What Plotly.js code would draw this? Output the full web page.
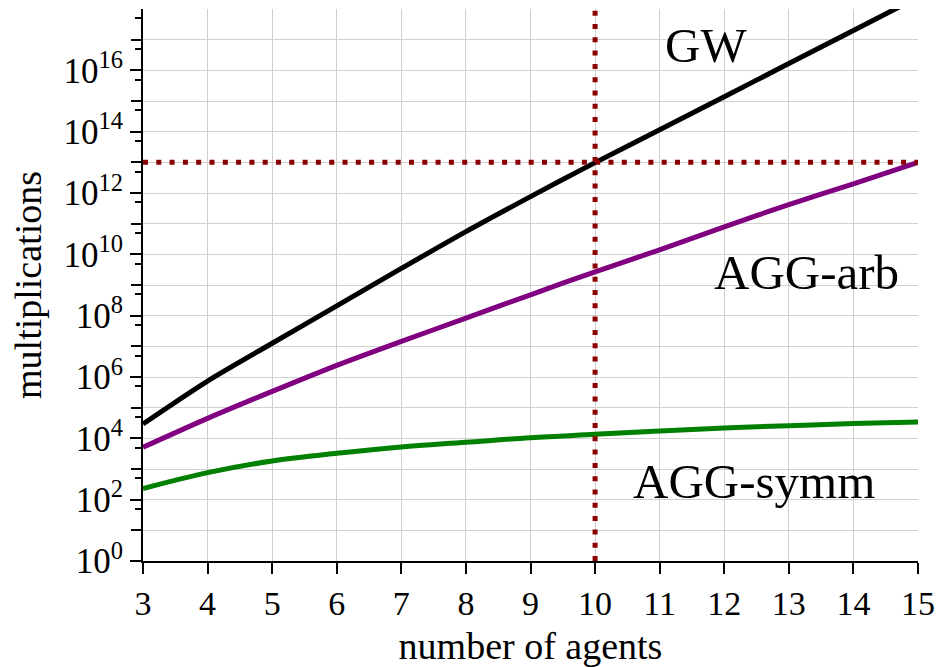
<!DOCTYPE html>
<html>
<head>
<meta charset="utf-8">
<script src="https://cdn.plot.ly/plotly-3.0.1.min.js"></script>
<style>html,body{margin:0;padding:0;background:#fff;}#chart{width:938px;height:667px;}</style>
</head>
<body>
<div id="chart"></div>
<script>
// ---- data ----
const agents   = [3, 4, 5, 6, 7, 8, 9, 10, 11, 12, 13, 14, 15];
const gwMults  = [2.95e4, 7.4e5, 1.26e7, 2.09e8, 3.47e9, 5.5e10, 7.6e11, 9.8e12, 1.15e14, 1.38e15, 1.66e16, 2.0e17, 2.4e18];
const aggArb   = [5.1e3, 4.47e4, 3.39e5, 2.4e6, 1.45e7, 8.3e7, 4.8e8, 2.7e9, 1.41e10, 7.9e10, 4.2e11, 2.0e12, 1.0e13];
const aggSymm  = [229, 759, 1820, 3240, 5250, 7410, 1.05e4, 1.35e4, 1.74e4, 2.19e4, 2.57e4, 3.02e4, 3.39e4];

const hLineX = [3, 15];
const hLineY = [1e13, 1e13];
const vLineX = [10, 10];
const vLineY = [1, 1e18];

const xTicks = [3, 4, 5, 6, 7, 8, 9, 10, 11, 12, 13, 14, 15];
const yTickVals = [1e0, 1e2, 1e4, 1e6, 1e8, 1e10, 1e12, 1e14, 1e16];
const yTickText = ['10<sup>0</sup>','10<sup>2</sup>','10<sup>4</sup>','10<sup>6</sup>','10<sup>8</sup>',
                   '10<sup>10</sup>','10<sup>12</sup>','10<sup>14</sup>','10<sup>16</sup>'];
const yOddDecades = [1e1, 1e3, 1e5, 1e7, 1e9, 1e11, 1e13, 1e15, 1e17];
const yMinorVals = [5e1,5e2,5e3,5e4,5e5,5e6,5e7,5e8,5e9,5e10,5e11,5e12,5e13,5e14,5e15,5e16,5e17];

const labels = [
  {text: 'GW',       x: 11.72, y: 16.82},
  {text: 'AGG-arb',  x: 13.28, y: 9.42},
  {text: 'AGG-symm', x: 12.46, y: 2.58}
];

const FONT = 'Liberation Serif, Times New Roman, serif';
const dotColor = '#8b0000';

const traces = [
  {x: agents, y: gwMults, mode: 'lines', line: {color: '#000000', width: 5, shape: 'spline', smoothing: 0.8}, name: 'GW'},
  {x: agents, y: aggArb,  mode: 'lines', line: {color: '#800080', width: 5, shape: 'spline', smoothing: 0.8}, name: 'AGG-arb'},
  {x: agents, y: aggSymm, mode: 'lines', line: {color: '#008000', width: 5, shape: 'spline', smoothing: 1}, name: 'AGG-symm'},
  {x: hLineX, y: hLineY, yaxis: 'y2', mode: 'lines', line: {color: dotColor, width: 5, dash: '5px,8.3px'}, hoverinfo: 'skip'},
  {x: vLineX, y: vLineY, yaxis: 'y2', mode: 'lines', line: {color: dotColor, width: 5, dash: '5px,8.3px'}, hoverinfo: 'skip'}
];

const tickCommon = {ticks: 'outside', ticklen: 11, tickwidth: 2, tickcolor: '#000'};

const layout = {
  width: 938, height: 667,
  margin: {l: 143, r: 20, t: 9, b: 106},
  paper_bgcolor: '#ffffff', plot_bgcolor: '#ffffff',
  showlegend: false,
  font: {family: FONT, color: '#000000', size: 35},
  xaxis: Object.assign({
    range: [3, 15],
    tickmode: 'array', tickvals: xTicks, ticktext: xTicks.map(String),
    showline: true, linecolor: '#000', linewidth: 2,
    showgrid: true, gridcolor: '#d0d0d0', gridwidth: 1,
    zeroline: false,
    tickfont: {family: FONT, size: 34, color: '#000'},
    title: {text: 'number of agents', font: {family: FONT, size: 38, color: '#000'}, standoff: 16}
  }, tickCommon),
  yaxis: Object.assign({
    type: 'log', range: [0, 18],
    tickmode: 'array', tickvals: yTickVals, ticktext: yTickText,
    showline: true, linecolor: '#000', linewidth: 2,
    showgrid: true, gridcolor: '#d0d0d0', gridwidth: 1,
    zeroline: false,
    minor: {tickmode: 'array', tickvals: yMinorVals, ticks: 'outside', ticklen: 6, tickwidth: 2, tickcolor: '#000', showgrid: false},
    tickfont: {family: FONT, size: 35, color: '#000'},
    title: {text: 'multiplications', font: {family: FONT, size: 38, color: '#000'}, standoff: 10}
  }, tickCommon),
  yaxis2: Object.assign({
    type: 'log', range: [0, 18], overlaying: 'y', side: 'left', anchor: 'x',
    tickmode: 'array', tickvals: yOddDecades, showticklabels: false,
    showline: false, showgrid: true, gridcolor: '#d0d0d0', gridwidth: 1,
    zeroline: false
  }, tickCommon),
  annotations: labels.map(l => ({
    text: l.text, x: l.x, y: l.y, xref: 'x', yref: 'y',
    showarrow: false, font: {family: FONT, size: 49, color: '#000'},
    xanchor: 'center', yanchor: 'middle'
  }))
};

Plotly.newPlot('chart', traces, layout, {staticPlot: true, displayModeBar: false});
</script>
</body>
</html>
